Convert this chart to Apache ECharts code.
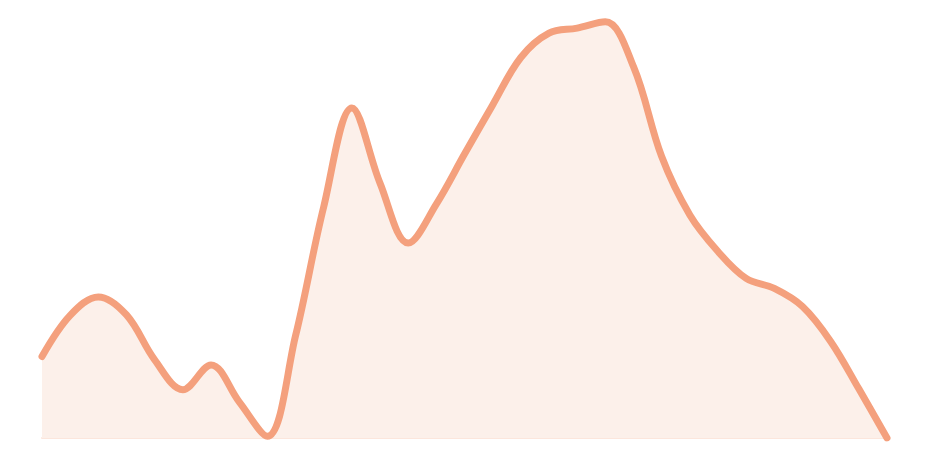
<!DOCTYPE html>
<html>
<head>
<meta charset="utf-8">
<script src="https://cdn.jsdelivr.net/npm/echarts@6/dist/echarts.min.js"></script>
<style>html,body{margin:0;padding:0;background:#fff;}#c{width:930px;height:462px;}</style>
</head>
<body>
<div id="c"></div>
<script>
var categories = ['1','2','3','4','5','6','7','8','9','10','11','12','13','14','15','16','17','18','19','20','21','22','23','24','25','26','27','28','29','30','31'];
var values = [19.4, 29.2, 33.6, 29.3, 18.6, 11.5, 17.4, 8.6, 0.4, 24.3, 55.0, 78.6, 60.7, 46.4, 55.7, 67.6, 79.3, 90.6, 96.4, 97.6, 99.1, 88.4, 67.0, 53.1, 44.4, 38.0, 35.6, 31.3, 23.0, 11.7, 0];

var chart = echarts.init(document.getElementById('c'), null, {renderer: 'canvas'});
chart.setOption({
  animation: false,
  grid: {left: 42, right: 43, top: 18, bottom: 24},
  xAxis: {
    type: 'category',
    data: categories,
    boundaryGap: false,
    axisLine: {show: true, lineStyle: {color: '#fce6dc', width: 2}},
    axisTick: {show: false},
    axisLabel: {show: false},
    splitLine: {show: false}
  },
  yAxis: {
    type: 'value',
    min: 0,
    max: 100,
    axisLine: {show: false},
    axisTick: {show: false},
    axisLabel: {show: false},
    splitLine: {show: false}
  },
  series: [{
    type: 'line',
    data: values,
    smooth: 0.36,
    showSymbol: false,
    lineStyle: {color: '#f4a07d', width: 7, cap: 'round'},
    itemStyle: {color: '#f4a07d'},
    areaStyle: {color: '#fcf0ea', opacity: 1}
  }]
});
</script>
</body>
</html>
